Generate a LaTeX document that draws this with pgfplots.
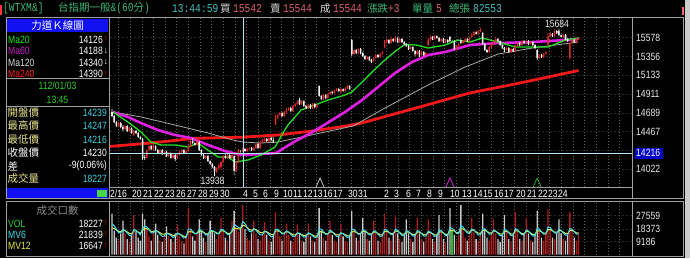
\documentclass[border=0pt]{standalone}
\usepackage{pgfplots}
\pgfplotsset{compat=1.18}
\usepackage{pgfplotstable}
\usepackage{fontspec}
\setmainfont{Liberation Sans}
\newfontfamily\nf[FakeStretch=0.82]{Liberation Sans}
\newfontfamily\cjk{Noto Sans CJK TC}
\newfontfamily\mf[FakeStretch=0.8]{Liberation Mono}
\definecolor{upred}{HTML}{E02828}
\definecolor{dnwhite}{HTML}{F2F2F2}
\definecolor{vred}{HTML}{B01C1C}
\definecolor{vwhite}{HTML}{C8C8C8}
\definecolor{flatg}{HTML}{20C020}
\definecolor{ma20}{HTML}{22E022}
\definecolor{ma60}{HTML}{E020E0}
\definecolor{ma120}{HTML}{A8A8A8}
\definecolor{ma240}{HTML}{F01818}
\definecolor{mv6}{HTML}{40E0F0}
\definecolor{mv12}{HTML}{E8E840}
\definecolor{framec}{HTML}{A0A0A0}
\definecolor{gridc}{HTML}{5A5A5A}
\definecolor{tgreen}{HTML}{3CB878}
\definecolor{tcyan}{HTML}{40C0C0}
\definecolor{tred}{HTML}{E06070}
\definecolor{lgreen}{HTML}{30D030}
\definecolor{lyellow}{HTML}{E8E890}
\definecolor{lcyan}{HTML}{40D0E0}
\definecolor{panelblue}{HTML}{1010F0}
\definecolor{hiblue}{HTML}{0000C8}

\pgfplotstableread{
i O H L C V
0 14698 14733 14639 14650 29000
1 14650 14662 14567 14579 17000
2 14579 14591 14520 14532 12000
3 14532 14579 14520 14567 10000
4 14567 14579 14508 14520 15000
5 14520 14544 14473 14496 24000
6 14496 14544 14484 14532 15000
7 14532 14544 14461 14473 11000
8 14473 14520 14461 14508 9000
9 14508 14520 14437 14449 14000
10 14425 14484 14413 14473 28000
11 14473 14484 14437 14449 16000
12 14449 14461 14390 14402 12000
13 14402 14413 14366 14378 10000
14 14378 14390 14129 14153 29000
15 14165 14188 14129 14153 25000
16 14153 14259 14141 14247 18000
17 14247 14319 14236 14295 13000
18 14295 14307 14247 14259 10000
19 14259 14330 14247 14307 15000
20 14295 14307 14236 14247 22000
21 14247 14259 14200 14212 14000
22 14212 14259 14200 14247 10000
23 14247 14259 14188 14200 9000
24 14200 14236 14188 14224 14000
25 14224 14236 14165 14176 20000
26 14176 14224 14165 14212 13000
27 14212 14224 14141 14153 11000
28 14153 14200 14141 14188 9000
29 14188 14200 14117 14141 15000
30 14153 14212 14141 14200 21000
31 14200 14236 14188 14224 13000
32 14224 14259 14212 14247 10000
33 14247 14259 14200 14212 8000
34 14212 14247 14200 14236 13000
35 14236 14307 14224 14295 33000
36 14295 14366 14283 14354 18000
37 14354 14390 14319 14330 13000
38 14330 14342 14295 14307 10000
39 14307 14390 14295 14354 16000
40 14342 14354 14236 14247 25000
41 14247 14259 14176 14188 16000
42 14188 14200 14141 14153 12000
43 14153 14188 14141 14176 9000
44 14176 14188 14105 14117 15000
45 14117 14129 14070 14082 24000
46 14082 14093 14034 14046 17000
47 14046 14058 13938 13999 15000
48 13987 14046 13975 14034 11000
49 14034 14082 14022 14070 14000
50 14046 14117 14010 14105 26000
51 14105 14188 14093 14176 17000
52 14176 14212 14141 14153 12000
53 14153 14200 14141 14188 10000
54 14188 14200 14141 14153 14000
55 14153 14200 14141 14188 24000
56 14176 14188 13951 13999 31000
57 13999 14117 13987 14105 19000
58 14105 14259 14093 14247 16000
59 14239 14247 14216 14230 18227
60 14230 14283 14224 14259 35000
61 14259 14271 14224 14236 18000
62 14236 14271 14224 14259 12000
63 14259 14283 14247 14271 10000
64 14271 14283 14236 14247 15000
65 14247 14283 14236 14271 24000
66 14271 14330 14259 14319 15000
67 14319 14330 14259 14271 11000
68 14271 14354 14259 14342 10000
69 14342 14378 14330 14366 14000
70 14354 14402 14342 14378 23000
71 14378 14390 14342 14354 14000
72 14354 14402 14342 14390 10000
73 14390 14402 14354 14366 9000
74 14366 14402 14330 14342 14000
75 14556 14662 14544 14627 30000
76 14627 14674 14615 14662 18000
77 14662 14698 14650 14686 13000
78 14686 14698 14639 14650 10000
79 14650 14710 14639 14698 15000
80 14698 14745 14686 14721 22000
81 14721 14757 14710 14745 14000
82 14745 14757 14698 14710 10000
83 14710 14781 14698 14769 9000
84 14769 14804 14757 14793 14000
85 14793 14840 14781 14816 21000
86 14840 14864 14781 14793 15000
87 14793 14840 14781 14828 10000
88 14828 14840 14757 14769 9000
89 14769 14781 14733 14745 14000
90 14745 14793 14733 14781 22000
91 14781 14793 14733 14745 13000
92 14745 14804 14733 14793 10000
93 14793 14804 14745 14757 9000
94 14757 14793 14745 14781 13000
95 15006 15018 14876 14887 33000
96 14887 14899 14840 14852 17000
97 14852 14911 14840 14899 12000
98 14899 14911 14852 14864 10000
99 14864 14923 14852 14911 15000
100 14911 14947 14899 14935 24000
101 14935 14947 14911 14923 14000
102 14923 14970 14911 14958 10000
103 14958 14982 14947 14970 9000
104 14970 14982 14935 14947 13000
105 14935 14982 14923 14970 22000
106 14970 14982 14935 14947 13000
107 14947 14994 14935 14982 10000
108 14982 15018 14970 15006 9000
109 15006 15018 14958 14970 14000
110 15551 15563 15361 15385 31000
111 15385 15444 15373 15432 18000
112 15432 15444 15385 15397 12000
113 15397 15456 15385 15444 10000
114 15444 15456 15385 15397 15000
115 15397 15409 15350 15361 26000
116 15361 15373 15314 15326 16000
117 15326 15361 15314 15350 11000
118 15350 15361 15302 15314 10000
119 15314 15326 15279 15290 14000
120 15302 15350 15290 15338 24000
121 15338 15385 15326 15373 15000
122 15373 15385 15338 15350 10000
123 15350 15397 15338 15385 9000
124 15385 15421 15373 15409 14000
125 15468 15551 15456 15527 29000
126 15527 15575 15515 15551 17000
127 15551 15563 15504 15515 12000
128 15515 15587 15504 15563 10000
129 15563 15575 15527 15539 15000
130 15539 15598 15527 15575 27000
131 15575 15587 15515 15527 15000
132 15527 15575 15515 15563 11000
133 15563 15575 15515 15527 9000
134 15527 15539 15492 15504 14000
135 15504 15515 15468 15480 25000
136 15480 15492 15432 15444 15000
137 15444 15480 15432 15468 11000
138 15468 15480 15409 15421 9000
139 15421 15432 15361 15385 14000
140 15385 15432 15373 15421 26000
141 15421 15432 15350 15373 15000
142 15373 15421 15361 15409 11000
143 15409 15421 15361 15373 9000
144 15373 15409 15361 15397 13000
145 15492 15575 15480 15551 25000
146 15551 15610 15539 15587 15000
147 15587 15598 15551 15563 11000
148 15563 15610 15551 15598 9000
149 15598 15610 15563 15575 14000
150 15575 15587 15527 15539 28000
151 15539 15575 15527 15563 16000
152 15563 15575 15515 15527 11000
153 15527 15563 15515 15551 9000
154 15551 15563 15515 15527 14000
155 15587 15598 15527 15539 33000
156 15539 15551 15527 15539 17000
157 15539 15551 15432 15444 14000
158 15444 15492 15432 15480 10000
159 15480 15515 15468 15504 14000
160 15551 15575 15504 15515 35000
161 15515 15551 15504 15539 17000
162 15539 15575 15527 15563 12000
163 15563 15575 15527 15539 10000
164 15539 15587 15527 15575 14000
165 15587 15634 15575 15610 26000
166 15610 15658 15598 15646 16000
167 15646 15658 15610 15622 11000
168 15622 15669 15610 15658 10000
169 15658 15693 15646 15669 14000
170 15634 15646 15492 15504 29000
171 15504 15515 15421 15432 18000
172 15432 15444 15397 15409 12000
173 15409 15480 15397 15468 10000
174 15468 15515 15456 15504 14000
175 15504 15539 15492 15527 25000
176 15527 15587 15515 15563 15000
177 15563 15575 15527 15539 11000
178 15539 15551 15480 15492 9000
179 15492 15504 15444 15456 14000
180 15456 15468 15409 15432 28000
181 15432 15468 15421 15456 16000
182 15456 15468 15397 15409 11000
183 15409 15456 15397 15444 9000
184 15444 15456 15409 15421 14000
185 15421 15492 15409 15480 30000
186 15480 15527 15468 15515 16000
187 15515 15527 15480 15492 11000
188 15492 15551 15480 15539 10000
189 15539 15551 15504 15515 14000
190 15515 15551 15504 15539 26000
191 15539 15551 15492 15504 15000
192 15504 15539 15492 15527 10000
193 15527 15539 15480 15492 9000
194 15492 15504 15444 15456 14000
195 15432 15444 15314 15338 31000
196 15338 15385 15326 15373 17000
197 15373 15385 15338 15350 12000
198 15350 15397 15338 15385 10000
199 15385 15421 15373 15409 15000
200 15492 15634 15480 15598 32000
201 15598 15646 15587 15622 18000
202 15622 15634 15587 15598 12000
203 15598 15681 15587 15658 11000
204 15658 15669 15622 15634 15000
205 15658 15684 15598 15610 25000
206 15610 15622 15575 15587 15000
207 15587 15622 15575 15610 11000
208 15610 15622 15551 15563 10000
209 15563 15575 15527 15539 14000
210 15338 15527 15314 15515 30000
211 15515 15563 15504 15551 17000
212 15551 15563 15515 15527 12000
213 15527 15575 15515 15563 10000
214 15563 15587 15551 15575 15000
}\pricedata
\pgfplotstablecreatecol[create col/expr accum={\pgfmathaccuma+0.2857*(\thisrow{V}-\pgfmathaccuma)}{19000}]{mv6}{\pricedata}
\pgfplotstablecreatecol[create col/expr accum={\pgfmathaccuma+0.1538*(\thisrow{V}-\pgfmathaccuma)}{17000}]{mv12}{\pricedata}

\pgfdeclareplotmark{chev}{\pgfpathmoveto{\pgfqpoint{-4pt}{-4.5pt}}\pgfpathlineto{\pgfqpoint{0pt}{4.5pt}}\pgfpathlineto{\pgfqpoint{4pt}{-4.5pt}}\pgfusepathqstroke}

\pgfplotsset{
  up/.style={restrict expr to domain={\thisrow{C}-\thisrow{O}}{0.5:100000}},
  dn/.style={restrict expr to domain={\thisrow{C}-\thisrow{O}}{-100000:-0.5}},
  fl/.style={restrict expr to domain={\thisrow{C}-\thisrow{O}}{-0.5:0.5}},
  panel/.style={scale only axis, axis lines=none, ticks=none, xmin=-0.92, xmax=238.5, width=522pt, anchor=north west},
  pricepanel/.style={panel, at={(110pt,-18pt)}, height=169pt, ymin=13809, ymax=15812},
}

\begin{document}
\begin{tikzpicture}
\begin{scope}[x=1pt,y=-1pt]
\fill[black] (0,0) rectangle (690,258);
\fill[white!80!black] (685,0) rectangle (690,258);
\fill[red!80!white] (0,5) rectangle (2,15);
\fill[red!60!white] (682,7) rectangle (684,15);
\foreach \k in {0,...,43} {
  \draw[gridc, dash pattern=on 1pt off 2pt, line width=0.6pt] ({118.5+11.65*\k},18) -- ({118.5+11.65*\k},187);
  \draw[gridc, dash pattern=on 1pt off 2pt, line width=0.6pt] ({118.5+11.65*\k},203) -- ({118.5+11.65*\k},255);
}
\foreach \yy in {37.7,56.5,75.3,94.1,112.8,131.6,150.4,169.2}
  \draw[gridc!130, dash pattern=on 2pt off 2pt, line width=0.6pt] (110,\yy) -- (632,\yy);
\foreach \yy in {215.7,229,241.7}
  \draw[gridc!130, dash pattern=on 2pt off 2pt, line width=0.6pt] (110,\yy) -- (632,\yy);
\end{scope}

% ---------------- price panel: moving averages
\begin{axis}[pricepanel]
\addplot[ma240, line width=2.8pt, line join=round] coordinates {(-0.9,14290) (13,14320) (27,14355) (37,14385) (60,14400) (76,14425) (91,14470) (107,14530) (114,14564) (141,14757) (164,14923) (187,15041) (214,15190)};
\addplot[ma120, line width=0.8pt, line join=round] coordinates {(0.5,14698) (13.3,14639) (28.9,14544) (44,14449) (55.5,14366) (60.1,14342) (68.3,14330) (76.1,14342) (91.3,14425) (110.6,14532) (125.2,14745) (145,15018) (161.9,15231) (177.1,15385) (192.7,15456) (213.8,15527)};
\addplot[ma60, line width=2.6pt, line join=round] coordinates {(0.5,14698) (7.3,14639) (13.3,14567) (21.1,14484) (28.9,14425) (36.2,14390) (44,14307) (51.8,14236) (59.2,14188) (68.3,14200) (75.2,14212) (83.9,14350) (91.3,14450) (99.1,14573) (106.9,14698) (114.7,14840) (122,14994) (129.8,15160) (137.6,15290) (145,15373) (152.8,15409) (164.2,15492) (177.1,15515) (192.7,15527) (207.8,15551) (213.8,15563)};
\addplot[ma20, line width=1.3pt, line join=round] coordinates {(0.5,14698) (7.3,14579) (13.3,14461) (17.9,14342) (22.5,14307) (28.9,14307) (34.9,14283) (39.4,14330) (44,14247) (48.6,14165) (53.2,14165) (56.4,14105) (62.4,14129) (68.3,14188) (74.8,14283) (78.4,14449) (80.7,14544) (86.7,14721) (93.1,14781) (99.1,14840) (106.9,14899) (110,14935) (115,15060) (120,15190) (125,15310) (130,15420) (134.4,15500) (140,15490) (145,15456) (152.8,15492) (158.7,15551) (164.2,15527) (169.7,15575) (177.1,15527) (184.9,15468) (192.7,15468) (200,15468) (207.8,15551) (213.8,15575)};
\addplot[only marks, mark=chev, mark options={white!75!black, line width=0.8pt}] coordinates {(95.4,13862)};
\addplot[only marks, mark=chev, mark options={ma60, line width=0.8pt}] coordinates {(155,13862)};
\addplot[only marks, mark=chev, mark options={lgreen!80!black, line width=0.8pt}] coordinates {(195,13862)};
\end{axis}

% ---------------- price panel: wicks (stacked from low to high)
\begin{axis}[pricepanel, ybar stacked, bar width=0.7pt, bar shift=0pt]
\addplot[fill=none, draw=none] table[x=i, y=L]{\pricedata};
\addplot[fill=upred, draw=none] table[x=i, y expr={(\thisrow{C}>\thisrow{O})*(\thisrow{H}-\thisrow{L})}]{\pricedata};
\addplot[fill=dnwhite, draw=none] table[x=i, y expr={(\thisrow{C}<\thisrow{O})*(\thisrow{H}-\thisrow{L})}]{\pricedata};
\addplot[fill=flatg, draw=none] table[x=i, y expr={(\thisrow{C}==\thisrow{O})*(\thisrow{H}-\thisrow{L})}]{\pricedata};
\end{axis}

% ---------------- price panel: bodies (stacked from lower body edge)
\begin{axis}[pricepanel, ybar stacked, bar width=1.55pt, bar shift=0pt]
\addplot[fill=none, draw=none] table[x=i, y expr={(\thisrow{O}+\thisrow{C})/2-max(abs(\thisrow{C}-\thisrow{O}),9)/2}]{\pricedata};
\addplot[fill=upred, draw=none] table[x=i, y expr={(\thisrow{C}>\thisrow{O})*max(abs(\thisrow{C}-\thisrow{O}),9)}]{\pricedata};
\addplot[fill=dnwhite, draw=none] table[x=i, y expr={(\thisrow{C}<\thisrow{O})*max(abs(\thisrow{C}-\thisrow{O}),9)}]{\pricedata};
\addplot[fill=flatg, draw=none] table[x=i, y expr={(\thisrow{C}==\thisrow{O})*9}]{\pricedata};
\end{axis}

% ---------------- volume panel
\begin{axis}[panel, at={(110pt,-203pt)}, height=51.7pt, ymin=0, ymax=36536]
\addplot[ybar, bar width=1.3pt, bar shift=0pt, fill=vred, draw=none, up] table[x=i, y=V]{\pricedata};
\addplot[ybar, bar width=1.3pt, bar shift=0pt, fill=vwhite, draw=none, dn] table[x=i, y=V]{\pricedata};
\addplot[ybar, bar width=1.3pt, bar shift=0pt, fill=flatg, draw=none, fl] table[x=i, y=V]{\pricedata};
\addplot[mv12, line width=1pt] table[x=i, y=mv12]{\pricedata};
\addplot[mv6, line width=1pt] table[x=i, y=mv6]{\pricedata};
\end{axis}

\begin{scope}[x=1pt,y=-1pt]
\draw[white!70!cyan, line width=0.7pt] (110,153) -- (632,153);
\draw[white!70!cyan, line width=0.7pt] (243,18) -- (243,187.5);
\draw[framec, line width=0.8pt] (6,17.5) rectangle (683.5,198.5);
\draw[framec, line width=0.8pt] (6,201.5) rectangle (683.5,256);
\draw[framec, line width=0.8pt] (109,17.5) -- (109,198.5);
\draw[framec, line width=0.8pt] (632,17.5) -- (632,198.5);
\draw[framec, line width=0.8pt] (109,187.5) -- (632,187.5);
\draw[framec, line width=0.8pt] (6,78) -- (109,78);
\draw[framec, line width=0.8pt] (6,106) -- (109,106);
\draw[framec, line width=0.8pt] (109,201.5) -- (109,256);
\draw[framec, line width=0.8pt] (632,201.5) -- (632,256);
\fill[panelblue] (7,18.5) rectangle (108,32);
\node[inner sep=0, white, font=\cjk\fontsize{10.5}{12}\selectfont] at (57.5,25.5) {力道Ｋ線圖};
\fill[panelblue] (7,188) rectangle (108,198);
\fill[lgreen!90!white] (97,189.5) rectangle (107,196.5);

\begin{scope}[every node/.style={inner sep=0, anchor=west}]
\node[tgreen, font=\mf\fontsize{12}{12}\selectfont] at (3,8.5) {[WTXM\&]};
\node[tgreen] at (58,8.5) {\cjk\fontsize{10.5}{12}\selectfont 台指期一般\mf\fontsize{12}{12}\selectfont\&(60\cjk\fontsize{10.5}{12}\selectfont 分\mf\fontsize{12}{12}\selectfont)};
\node[tcyan, font=\mf\fontsize{12}{12}\selectfont] at (172,8.5) {13:44:59};
\node[white!85!black, font=\cjk\fontsize{10.5}{12}\selectfont] at (220,8.5) {買};
\node[tred, font=\mf\fontsize{12}{12}\selectfont] at (233,8.5) {15542};
\node[white!85!black, font=\cjk\fontsize{10.5}{12}\selectfont] at (270,8.5) {賣};
\node[tred, font=\mf\fontsize{12}{12}\selectfont] at (283,8.5) {15544};
\node[white!85!black, font=\cjk\fontsize{10.5}{12}\selectfont] at (320,8.5) {成};
\node[tred, font=\mf\fontsize{12}{12}\selectfont] at (333,8.5) {15544};
\node[tgreen, font=\cjk\fontsize{10.5}{12}\selectfont] at (367,8.5) {漲跌};
\node[tred, font=\mf\fontsize{12}{12}\selectfont] at (388,8.5) {+3};
\node[tgreen, font=\cjk\fontsize{10.5}{12}\selectfont] at (412,8.5) {單量};
\node[tred, font=\mf\fontsize{12}{12}\selectfont] at (436,8.5) {5};
\node[tgreen, font=\cjk\fontsize{10.5}{12}\selectfont] at (449,8.5) {總張};
\node[tcyan, font=\mf\fontsize{12}{12}\selectfont] at (473,8.5) {82553};
\end{scope}

\begin{scope}[every node/.style={inner sep=0}]
\node[anchor=west, ma20, font=\nf\fontsize{10.5}{12}\selectfont] at (8,39.5) {Ma20};
\node[anchor=east, white, font=\nf\fontsize{10.5}{12}\selectfont] at (103,39.5) {14126};
\node[anchor=west, red, font=\nf\fontsize{9}{10}\selectfont] at (103.8,39.5) {↑};
\node[anchor=west, ma60!90!black, font=\nf\fontsize{10.5}{12}\selectfont] at (8,51) {Ma60};
\node[anchor=east, white, font=\nf\fontsize{10.5}{12}\selectfont] at (103,51) {14188};
\node[anchor=west, white, font=\nf\fontsize{9}{10}\selectfont] at (103.8,51) {↓};
\node[anchor=west, white!85!black, font=\nf\fontsize{10.5}{12}\selectfont] at (8,62.5) {Ma120};
\node[anchor=east, white, font=\nf\fontsize{10.5}{12}\selectfont] at (103,62.5) {14340};
\node[anchor=west, white, font=\nf\fontsize{9}{10}\selectfont] at (103.8,62.5) {↓};
\node[anchor=west, red!90!white, font=\nf\fontsize{10.5}{12}\selectfont] at (8,74) {Ma240};
\node[anchor=east, white, font=\nf\fontsize{10.5}{12}\selectfont] at (103,74) {14390};
\node[anchor=west, red, font=\nf\fontsize{9}{10}\selectfont] at (103.8,74) {↑};
\node[lgreen, font=\nf\fontsize{10.5}{12}\selectfont] at (57.5,85.5) {112/01/03};
\node[lgreen, font=\nf\fontsize{10.5}{12}\selectfont] at (57.5,99.5) {13:45};
\node[anchor=west, lyellow, font=\cjk\fontsize{10.5}{12}\selectfont] at (7.5,112.5) {開盤價};
\node[anchor=east, lcyan, font=\nf\fontsize{10.5}{12}\selectfont] at (107,112.5) {14239};
\node[anchor=west, lyellow, font=\cjk\fontsize{10.5}{12}\selectfont] at (7.5,126) {最高價};
\node[anchor=east, lcyan, font=\nf\fontsize{10.5}{12}\selectfont] at (107,126) {14247};
\node[anchor=west, lyellow, font=\cjk\fontsize{10.5}{12}\selectfont] at (7.5,139.5) {最低價};
\node[anchor=east, lcyan, font=\nf\fontsize{10.5}{12}\selectfont] at (107,139.5) {14216};
\node[anchor=west, white, font=\cjk\fontsize{10.5}{12}\selectfont] at (7.5,152.7) {收盤價};
\node[anchor=east, white, font=\nf\fontsize{10.5}{12}\selectfont] at (107,152.7) {14230};
\node[anchor=west, white, font=\cjk\fontsize{10.5}{12}\selectfont] at (7.5,166) {差};
\node[anchor=east, white, font=\nf\fontsize{10.5}{12}\selectfont] at (107,166) {-9(0.06\%)};
\node[anchor=west, lyellow, font=\cjk\fontsize{10.5}{12}\selectfont] at (7.5,178.5) {成交量};
\node[anchor=east, lcyan, font=\nf\fontsize{10.5}{12}\selectfont] at (107,178.5) {18227};
\node[white!55!black, font=\cjk\fontsize{10.5}{12}\selectfont] at (57.5,210) {成交口數};
\node[anchor=west, lgreen, font=\nf\fontsize{10.5}{12}\selectfont] at (8,223.5) {VOL};
\node[anchor=east, white, font=\nf\fontsize{10.5}{12}\selectfont] at (103,223.5) {18227};
\node[anchor=west, red, font=\nf\fontsize{9}{10}\selectfont] at (103.8,223.5) {↑};
\node[anchor=west, mv6, font=\nf\fontsize{10.5}{12}\selectfont] at (8,234.5) {MV6};
\node[anchor=east, white, font=\nf\fontsize{10.5}{12}\selectfont] at (103,234.5) {21839};
\node[anchor=west, red, font=\nf\fontsize{9}{10}\selectfont] at (103.8,234.5) {↑};
\node[anchor=west, mv12, font=\nf\fontsize{10.5}{12}\selectfont] at (8,246) {MV12};
\node[anchor=east, white, font=\nf\fontsize{10.5}{12}\selectfont] at (103,246) {16647};
\node[anchor=west, red, font=\nf\fontsize{9}{10}\selectfont] at (103.8,246) {↑};
\foreach \yy/\t in {37.7/15578,56.5/15356,75.3/15133,94.1/14911,112.8/14689,131.6/14467,169.2/14022,215.7/27559,229/18373,241.7/9186}
  \node[anchor=west, white!92!black, font=\nf\fontsize{10.5}{12}\selectfont] at (636,\yy) {\t};
\fill[hiblue] (634.5,147.5) rectangle (662.5,158.5);
\node[anchor=west, white, font=\nf\fontsize{10.5}{12}\selectfont] at (636,153) {14216};
\node[white!92!black, font=\nf\fontsize{10.5}{12}\selectfont] at (557,24) {15684};
\node[white!92!black, font=\nf\fontsize{10.5}{12}\selectfont] at (212.5,181) {13938};
\foreach \xx/\t in {110/2\slash16,132/20,143/21,154/22,165/23,176/26,187/27,198/28,209/29,220/30,243/4,253/5,263/6,274/9,283/10,293/11,303/12,313/13,323/16,333/17,348/30,358/31,384/2,394/3,406/6,416/7,427/8,438/9,450/10,462/13,473/14,483/15,494/16,504/17,516/20,527/21,538/22,548/23,558/24}
  \node[anchor=west, white, font=\nf\fontsize{10.5}{12}\selectfont] at (\xx,194) {\t};
\end{scope}
\end{scope}
\pgfresetboundingbox
\path[use as bounding box] (0pt,0pt) rectangle (690pt,-258pt);
\end{tikzpicture}
\end{document}
